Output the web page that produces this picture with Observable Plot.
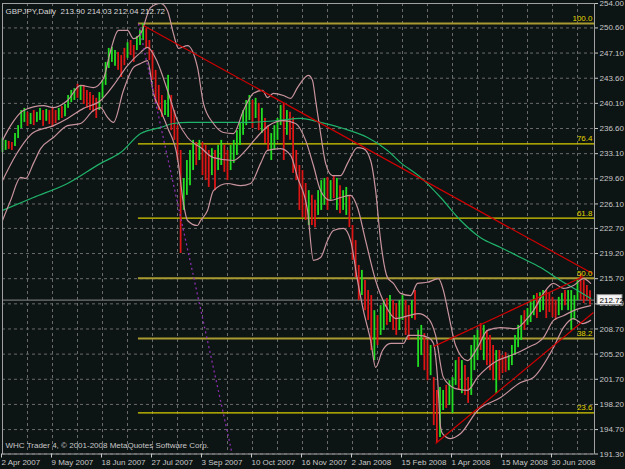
<!DOCTYPE html>
<html><head><meta charset="utf-8">
<script src="https://cdn.jsdelivr.net/npm/d3@7"></script>
<script src="https://cdn.jsdelivr.net/npm/@observablehq/plot@0.6"></script>
<style>
html,body{margin:0;padding:0;background:#0d1414;overflow:hidden;}
</style></head><body><div id="chart"></div>
<script>
// ---------- data ----------
const symbolTitle = "GBPJPY,Daily";
const lastOHLC = [213.90, 214.03, 212.04, 212.72];
const footerText = "WHC Trader 4, \u00A9 2001-2008 MetaQuotes Software Corp.";

const dateLabels = ["2 Apr 2007","9 May 2007","18 Jun 2007","27 Jul 2007","3 Sep 2007","10 Oct 2007","16 Nov 2007","2 Jan 2008","15 Feb 2008","1 Apr 2008","15 May 2008","30 Jun 2008"];
const dateLabelIdx = [0,16,32,48,64,80,96,112,128,144,160,176];

const priceTicks = [254.00,250.60,247.10,243.60,240.10,236.60,233.10,229.60,226.10,222.70,219.20,215.70,212.20,208.70,205.20,201.70,198.20,194.70,191.30];

const barHigh = [235.2,234.95,234.8,234.65,235.9,237.0,239.1,239.4,238.85,238.7,
239.1,238.85,239.4,239.1,239.25,239.1,239.4,239.1,239.4,239.65,
239.95,241.2,241.9,242.15,242.75,242.45,242.6,241.9,241.6,241.2,
240.8,241.6,243.3,245.8,247.75,247.9,247.45,247.2,246.75,247.75,
248.55,248.85,248.15,249.4,250.25,251.15,250.5,248.85,247.45,244.7,
242.6,241.2,240.5,244.0,241.2,239.1,237.0,233.55,229.65,232.15,
233.55,234.95,234.65,234.95,234.65,234.25,233.55,233.8,233.55,234.25,
234.95,234.25,233.55,234.25,234.95,236.3,237.45,239.1,240.5,241.2,
240.5,240.8,240.1,239.4,238.0,237.0,235.9,237.0,238.0,239.8,
240.1,239.1,238.85,238.15,233.55,231.45,230.75,228.95,227.95,227.3,
226.6,227.95,229.35,229.65,229.8,229.35,230.05,229.65,228.65,227.95,
228.4,227.3,223.1,221.0,217.55,216.85,215.45,214.05,213.35,211.25,
210.55,211.95,212.65,212.95,213.35,212.65,212.25,212.65,213.35,212.65,
211.95,212.65,214.05,208.5,209.2,208.05,207.1,206.4,201.95,200.15,
200.55,200.15,200.85,201.5,201.95,204.3,204.75,204.3,203.6,201.95,
206.4,207.8,208.5,209.45,209.2,208.5,207.8,206.4,205.7,205.7,
205.0,205.4,205.0,206.4,207.8,209.2,210.55,211.25,211.55,212.65,
213.35,213.65,213.75,214.05,214.05,213.75,213.1,212.65,213.1,213.65,
214.05,214.05,214.05,213.35,215.45,216.3,215.45,214.75,214.03];

const barLow = [233.25,233.55,233.7,233.55,234.1,235.2,236.6,237.45,236.9,237.15,
237.0,237.45,237.7,236.9,237.6,237.15,236.75,237.3,237.7,238.0,
238.25,239.4,240.2,240.5,240.8,240.5,239.95,239.4,239.1,238.85,
238.0,239.1,240.8,242.6,244.95,245.8,245.25,244.7,243.7,245.35,
246.35,246.75,245.8,247.45,248.15,248.85,247.75,246.05,243.3,240.1,
239.1,238.15,238.4,238.15,236.3,234.95,232.15,219.2,225.2,227.3,
228.65,230.75,231.45,232.15,230.05,229.35,228.4,230.05,227.95,230.75,
231.45,230.5,229.35,230.75,231.75,232.85,234.25,235.65,237.0,237.7,
236.6,238.0,236.3,235.9,234.5,233.55,232.15,233.55,234.95,237.0,
232.15,235.65,234.95,230.35,229.35,225.2,224.2,223.8,223.1,223.1,
222.8,224.5,225.2,225.9,225.2,226.6,226.85,225.2,224.75,225.2,
224.5,222.8,218.25,215.85,212.65,213.35,211.25,209.9,205.7,204.3,
206.4,207.8,208.5,209.2,209.6,208.5,207.8,208.5,209.9,207.8,
207.1,210.15,209.9,203.35,205.0,202.9,201.5,202.2,195.25,192.9,
193.6,197.35,197.65,198.05,196.95,200.85,200.15,199.7,199.45,198.35,
199.45,202.9,204.3,205.7,204.3,203.6,202.9,201.5,199.7,201.5,
202.5,202.65,202.9,203.6,205.0,206.1,207.1,208.5,209.2,209.6,
210.55,210.15,211.0,211.25,210.15,211.0,210.3,209.9,210.55,211.25,
211.95,211.25,208.5,209.9,212.65,212.65,212.25,212.65,212.04];

const barDir = ("uudduuuudu" + "duududddud" + "uuuududddd" + "duuuuuuddd" + "udduuudddd" +
  "dduudddduu" + "uududddudu" + "udduuuuuuu" + "dududduuuu" + "duddddddud" +
  "duuudududu" + "uddddudddu" + "duududduud" + "duduuddudd" + "uuduuududd" +
  "uuududddud" + "dduuuuuduu" + "uduudddduu" + "duuuudddd").split("");

// Bollinger bands (bar index, price)
const upperIdx = [0,2.6,6.7,13.1,16.3,20.8,25.0,29.1,32.3,34.6,37.1,40.0,41.9,44.2,47.4,50.6,52.8,54.7,56.3,59.2,62.4,64.3,67.5,70.7,73.9,77.1,80.3,83.2,84.8,86.7,89.9,92.2,94.4,97.9,99.2,100.2,101.8,103.4,105.6,108.2,110.4,113.6,115.5,117.8,119.4,121.0,123.2,125.1,127.4,130.6,132.8,136.0,139.5,141.1,142.7,145.0,148.8,152.0,155.2,159.4,164.2,167.4,169.9,173.1,176.3,179.5,182.7,185.9,188.2];
const upperVal = [234.95,237.0,239.1,239.8,239.5,240.5,242.6,242.3,243.55,247.45,250.25,250.25,249.1,249.8,253.45,254.0,253.0,249.8,247.75,248.15,245.1,240.1,237.3,236.05,235.9,239.1,241.5,241.9,240.9,241.5,241.2,240.8,242.3,244.0,243.3,240.5,235.9,231.75,230.05,230.05,231.75,233.95,233.8,232.15,227.95,221.0,215.85,215.05,213.65,213.35,215.05,215.2,215.7,214.05,210.85,206.4,204.3,206.1,208.5,208.9,208.75,209.9,211.25,213.65,215.05,214.35,214.75,215.7,215.05];

const middleIdx = [0,4.2,9.9,16.3,20.8,25.9,31.4,35.5,40.0,44.2,46.4,49.6,52.8,56.0,59.2,63.4,67.5,73.9,77.8,81.0,85.1,89.9,93.8,97.0,99.5,101.8,105.0,108.2,111.4,113.6,116.2,119.4,122.6,125.8,129.9,133.1,136.3,138.6,141.1,145.0,148.8,152.0,158.4,162.6,168.0,173.1,176.3,179.5,182.7,188.2];
const middleVal = [229.35,232.85,236.05,237.0,238.0,239.4,240.5,242.6,245.35,247.2,247.9,245.8,241.9,237.7,235.35,233.95,232.55,232.15,233.55,235.2,237.0,237.7,237.3,234.95,231.45,227.95,226.6,227.0,227.3,225.6,221.0,215.45,211.95,210.15,210.55,210.85,210.15,207.8,201.95,200.4,200.15,201.95,204.3,205.0,206.1,207.5,209.9,210.55,211.25,211.95];

const lowerIdx = [0,2.6,5.8,7.4,9.9,12.2,16.3,20.8,25.0,29.1,31.4,33.6,35.5,38.7,41.9,44.2,46.4,48.3,50.6,52.8,56.0,57.9,59.2,62.4,63.4,65.6,67.5,72.0,76.2,79.4,82.6,84.8,89.0,92.2,94.4,97.6,99.5,101.8,104.0,105.9,109.1,111.4,113.6,115.5,117.8,119.4,121.6,124.2,128.3,129.9,133.1,136.3,137.9,139.2,140.2,140.8,143.4,146.6,152.0,159.4,165.8,169.9,176.3,179.5,182.7,185.6,188.2];
const lowerVal = [223.8,226.6,229.8,229.65,231.75,233.8,235.35,237.0,237.3,239.1,239.5,238.15,237.45,241.9,245.1,245.65,246.05,241.5,239.1,236.75,232.55,226.2,223.8,223.1,223.8,225.2,227.95,228.95,228.65,228.95,231.75,233.55,233.8,232.85,229.8,225.2,218.25,218.65,221.0,222.4,222.7,221.0,215.45,211.25,207.1,203.35,205.7,206.7,206.7,207.8,207.8,207.5,206.7,201.95,195.0,194.15,193.45,194.15,197.35,199.15,201.25,201.95,206.1,208.9,210.15,209.45,209.9];

// long moving average
const maIdx = [0,9.9,20.8,31.4,37.8,44.2,50.6,54.7,59.2,63.4,77.1,88.0,95.4,101.8,109.1,116.8,123.2,127.4,133.8,140.2,146.6,153.0,159.4,165.8,172.2,178.6,184.0,188.2];
const maVal = [225.2,227.0,228.95,231.75,233.25,235.9,236.75,237.3,237.45,237.45,237.45,237.7,238.0,237.45,236.6,235.35,233.55,231.85,229.8,227.0,223.8,221.4,220.05,218.65,217.25,215.45,214.05,212.95];

// Fibonacci retracement (anchors: high and low, bar index)
const fibLevels = [100.0, 76.4, 61.8, 50.0, 38.2, 23.6];
const fibHigh = 251.2, fibLow = 180.3;
const fibStartIdx = 43.5, fibEndIdx = 79;

// trend lines
const trendStartIdx = [45.1, 137.9, 138.6];
const trendStartPrice = [250.94, 206.25, 192.75];
const trendEndIdx = [188.8, 185.9, 189.1];
const trendEndPrice = [216.42, 216.0, 211.0];

// ---------- chart ----------
const xMax = 189.44;
const lastClose = lastOHLC[3];
const titleText = symbolTitle + "  " + lastOHLC.map(v => v.toFixed(2)).join(" ");
const bars = barHigh.map((h, i) => ({i, hi: h, lo: barLow[i], up: barDir[i] === "u"}));
const pts = (xs, ys) => xs.map((x, k) => ({x, y: ys[k]}));
const fib = fibLevels.map(l => ({level: l, price: fibLow + (fibHigh - fibLow) * l / 100}));
const dimLevels = [100.0, 50.0, 38.2];
const trends = trendStartIdx.map((x, k) => ({x1: x, y1: trendStartPrice[k], x2: trendEndIdx[k], y2: trendEndPrice[k]}));
const gridIdx = d3.range(0, 189, 8);
const labelMap = new Map(dateLabelIdx.map((d, k) => [d, dateLabels[k]]));
const bandColor = "#c8949e";

const chart = Plot.plot({
  width: 625, height: 469,
  marginLeft: 2, marginRight: 31, marginTop: 3, marginBottom: 15.5,
  style: {background: "#0d1414", color: "#c8c8c8", fontFamily: "'Liberation Sans', Arial, sans-serif", fontSize: "8px"},
  x: {domain: [0, xMax], axis: null},
  y: {domain: [191.3, 254.0], axis: null},
  marks: [
    Plot.gridY(priceTicks, {stroke: "#6a6a6a", strokeOpacity: 1, strokeDasharray: "3,3"}),
    Plot.gridX(gridIdx, {stroke: "#6a6a6a", strokeOpacity: 1, strokeDasharray: "3,3"}),
    Plot.ruleY(fib, {y: "price", x1: fibStartIdx, x2: xMax,
      stroke: d => dimLevels.includes(d.level) ? "#a89a30" : "#d8cc00",
      strokeWidth: d => dimLevels.includes(d.level) ? 2 : 1.2}),
    Plot.ruleY([lastClose], {stroke: "#8a8a8a", strokeWidth: 1}),
    Plot.ruleX(bars.filter(d => d.up), {x: "i", y1: "lo", y2: "hi", stroke: "#22dd22", strokeWidth: 1.8}),
    Plot.ruleX(bars.filter(d => !d.up), {x: "i", y1: "lo", y2: "hi", stroke: "#dd1515", strokeWidth: 1.8}),
    Plot.line(pts(maIdx, maVal), {x: "x", y: "y", stroke: "#1fb26a", strokeWidth: 1.2, curve: "monotone-x"}),
    Plot.line(pts(upperIdx, upperVal), {x: "x", y: "y", stroke: bandColor, strokeWidth: 1.2, curve: "monotone-x", clip: true}),
    Plot.line(pts(middleIdx, middleVal), {x: "x", y: "y", stroke: bandColor, strokeWidth: 1.2, curve: "monotone-x"}),
    Plot.line(pts(lowerIdx, lowerVal), {x: "x", y: "y", stroke: bandColor, strokeWidth: 1.2, curve: "monotone-x"}),
    Plot.link([{x1: fibStartIdx, y1: fibHigh, x2: fibEndIdx, y2: fibLow}], {x1: "x1", y1: "y1", x2: "x2", y2: "y2",
      stroke: "#8a2fb0", strokeWidth: 1.3, strokeDasharray: "2,3", clip: true}),
    Plot.link(trends, {x1: "x1", y1: "y1", x2: "x2", y2: "y2", stroke: "#d00000", strokeWidth: 1.2}),
    Plot.text(fib, {x: xMax, y: "price", text: d => d.level.toFixed(1), textAnchor: "end", dx: -2, dy: -5, fill: "#e0d400"}),
    Plot.frame({stroke: "#a0a0a0"}),
    Plot.axisY({anchor: "right", ticks: priceTicks, tickFormat: d => d.toFixed(2), tickSize: 3, tickPadding: 2}),
    Plot.axisX({anchor: "bottom", ticks: dateLabelIdx, tickFormat: d => labelMap.get(d), tickSize: 4, tickPadding: 1, textAnchor: "start", dx: -1}),
    Plot.rect([lastClose], {x1: xMax, x2: xMax, y1: d => d, y2: d => d, insetLeft: 3, insetRight: -28, insetTop: -5, insetBottom: -5, fill: "#f4f4f4", stroke: "#909090"}),
    Plot.text([lastClose], {x: xMax, y: d => d, text: d => d.toFixed(2), dx: 5, textAnchor: "start", fill: "#000000"}),
    Plot.text([titleText], {frameAnchor: "top-left", dx: 3, dy: 5, textAnchor: "start", fill: "#d8d8d8"}),
    Plot.text([footerText], {frameAnchor: "bottom-left", dx: 3, dy: -6, textAnchor: "start", fill: "#c8c8c8"})
  ]
});
document.getElementById("chart").append(chart);
</script>
</body></html>
